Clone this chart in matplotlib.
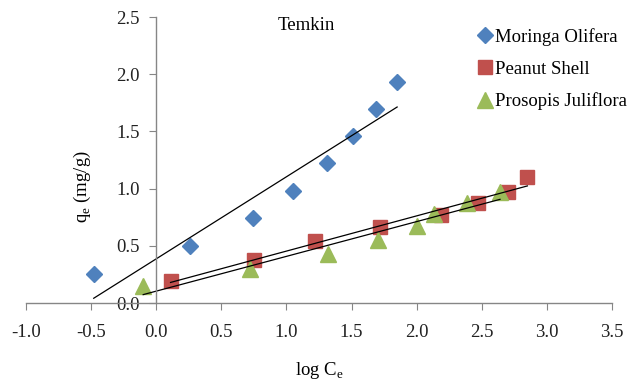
import numpy as np
import matplotlib
matplotlib.use("Agg")
import matplotlib.pyplot as plt

plt.rcParams["font.family"] = ["Liberation Serif", "DejaVu Serif"]

# log Ce vs qe for the three adsorbents
moringa_x = [-0.48, 0.26, 0.745, 1.05, 1.31, 1.51, 1.69, 1.85]
moringa_y = [0.25, 0.50, 0.74, 0.98, 1.22, 1.46, 1.70, 1.93]
peanut_x = [0.11, 0.75, 1.22, 1.72, 2.19, 2.47, 2.70, 2.85]
peanut_y = [0.19, 0.38, 0.54, 0.66, 0.77, 0.87, 0.97, 1.10]
prosopis_x = [-0.10, 0.72, 1.32, 1.70, 2.00, 2.13, 2.39, 2.64]
prosopis_y = [0.15, 0.30, 0.43, 0.55, 0.67, 0.78, 0.87, 0.97]

xticks = [-1.0, -0.5, 0.0, 0.5, 1.0, 1.5, 2.0, 2.5, 3.0, 3.5]
yticks = [0.0, 0.5, 1.0, 1.5, 2.0, 2.5]

FS = 13.5

fig = plt.figure(figsize=(6.29, 3.84), dpi=100)
ax = fig.add_axes([26 / 629, 81 / 384, 586 / 629, 286 / 384])

series = [
    (moringa_x, moringa_y, "D", "#4F81BD", "Moringa Olifera", 8.5),
    (peanut_x, peanut_y, "s", "#C0504D", "Peanut Shell", 10),
    (prosopis_x, prosopis_y, "^", "#9BBB59", "Prosopis Juliflora", 11),
]
for xs, ys, m, c, lab, ms in series:
    ax.plot(xs, ys, m, color=c, markersize=ms, label=lab, linestyle="none", clip_on=False)
for xs, ys, m, c, lab, ms in series:
    k, b = np.polyfit(xs, ys, 1)
    xx = np.array([min(xs), max(xs)])
    ax.plot(xx, k * xx + b, color="black", linewidth=0.9)

ax.set_xlim(-1.0, 3.5)
ax.set_ylim(0.0, 2.5)
ax.set_xticks(xticks)
ax.set_yticks(yticks)
ax.set_xticklabels(["%.1f" % t for t in xticks])
ax.set_yticklabels(["%.1f" % t for t in yticks])

ax.spines["left"].set_position(("data", 0))
ax.spines["right"].set_visible(False)
ax.spines["top"].set_visible(False)
for s in ["left", "bottom"]:
    ax.spines[s].set_color("#868686")
    ax.spines[s].set_linewidth(1.0)
ax.tick_params(axis="both", direction="out", length=5, color="#868686",
               labelsize=FS, labelcolor="#222222")
ax.tick_params(axis="x", pad=10)
ax.tick_params(axis="y", pad=7)

ax.text(1.15, 2.43, "Temkin", fontsize=FS, ha="center", va="center")
ax.set_xlabel(r"log C$_\mathregular{e}$", fontsize=FS, labelpad=14)
fig.text(82 / 629, 1 - 187 / 384, r"q$_\mathregular{e}$ (mg/g)", rotation=90,
         fontsize=FS, ha="center", va="center")

ax.legend(loc="upper left", bbox_to_anchor=((476 - 26) / 586, (303 - 28) / 286),
          bbox_transform=ax.transAxes, frameon=False, fontsize=FS,
          handletextpad=0.0, handlelength=1.0, labelspacing=0.78,
          borderaxespad=0.0, borderpad=0.0)

fig.savefig("out.png", dpi=100)
